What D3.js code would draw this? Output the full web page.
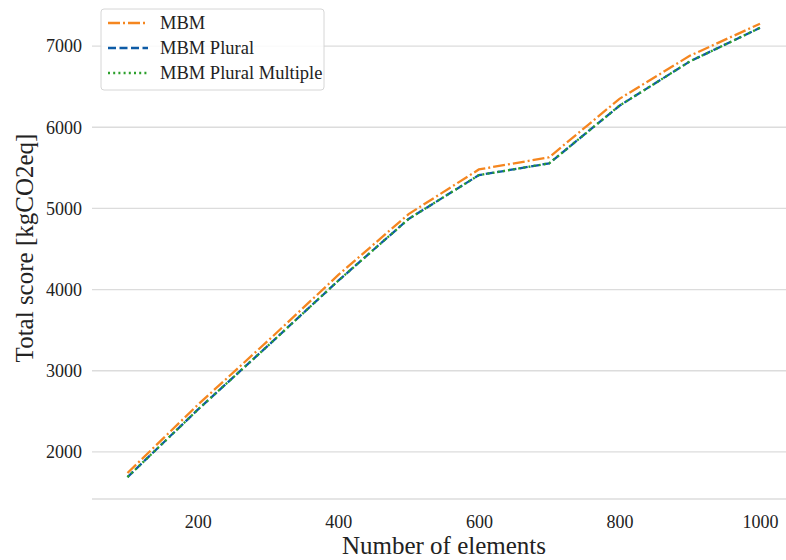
<!DOCTYPE html>
<html>
<head>
<meta charset="utf-8">
<script src="https://cdn.jsdelivr.net/npm/d3@7"></script>
<style>
  body { margin: 0; background: #fff; }
</style>
</head>
<body>
<div id="chart"></div>
<script>
var width = 786, height = 560
var serif = '"Liberation Serif", "Times New Roman", serif'

// data
var elements = [100, 200, 300, 400, 500, 600, 700, 800, 900, 1000]
var mbm = [1740, 2580, 3370, 4180, 4930, 5480, 5630, 6350, 6880, 7275]
var mbmPlural = [1690, 2520, 3310, 4110, 4870, 5410, 5555, 6265, 6810, 7225]
var mbmPluralMultiple = [1690, 2520, 3310, 4110, 4870, 5410, 5555, 6265, 6810, 7225]
var xTicks = [200, 400, 600, 800, 1000]
var yTicks = [2000, 3000, 4000, 5000, 6000, 7000]

var series = [
  {name: 'MBM', values: mbm, color: '#f5861f', dash: '12,3,2,3'},
  {name: 'MBM Plural', values: mbmPlural, color: '#0d5ba6', dash: '8,3.5'},
  {name: 'MBM Plural Multiple', values: mbmPluralMultiple, color: '#2ca02c', dash: '2,3.2'}
]

var plot = {left: 92, right: 786, top: -1, bottom: 499}

var svg = d3.select('#chart')
  .append('svg')
  .attr('width', width)
  .attr('height', height)
  .attr('font-family', serif)

var xScale = d3.scaleLinear()
  .domain([49.5, 1037])
  .range([plot.left, plot.right])

var yScale = d3.scaleLinear()
  .domain([1420, 7580])
  .range([plot.bottom, plot.top])

// grid
svg.append('g')
  .attr('class', 'grid')
  .selectAll('line')
  .data(yTicks.concat([1420]))
  .enter()
  .append('line')
  .attr('x1', plot.left)
  .attr('x2', plot.right)
  .attr('y1', d => yScale(d))
  .attr('y2', d => yScale(d))
  .attr('stroke', '#dcdcdc')
  .attr('stroke-width', 1.3)

// axes
var xAxis = d3.axisBottom(xScale)
  .tickValues(xTicks)
  .tickFormat(d3.format('d'))
  .tickSize(0)
  .tickPadding(16)

var yAxis = d3.axisLeft(yScale)
  .tickValues(yTicks)
  .tickFormat(d3.format('d'))
  .tickSize(0)
  .tickPadding(10)

svg.append('g')
  .attr('transform', `translate(0,${plot.bottom})`)
  .call(xAxis)
  .attr('font-family', serif)
  .attr('font-size', 18)
  .call(g => g.select('.domain').remove())
  .selectAll('text')
  .attr('fill', '#222')

svg.append('g')
  .attr('transform', `translate(${plot.left},0)`)
  .call(yAxis)
  .attr('font-family', serif)
  .attr('font-size', 18)
  .call(g => g.select('.domain').remove())
  .selectAll('text')
  .attr('fill', '#222')

// axis titles
svg.append('text')
  .attr('x', (plot.left + plot.right) / 2 + 5)
  .attr('y', 554)
  .attr('text-anchor', 'middle')
  .attr('font-size', 25)
  .attr('fill', '#222')
  .text('Number of elements')

svg.append('text')
  .attr('transform', 'translate(33,248) rotate(-90)')
  .attr('text-anchor', 'middle')
  .attr('font-size', 25)
  .attr('fill', '#222')
  .text('Total score [kgCO2eq]')

// lines
var line = d3.line()
  .x((d, i) => xScale(elements[i]))
  .y(d => yScale(d))

svg.selectAll('path.series')
  .data(series)
  .enter()
  .append('path')
  .attr('class', 'series')
  .attr('d', d => line(d.values))
  .attr('fill', 'none')
  .attr('stroke', d => d.color)
  .attr('stroke-width', 2.3)
  .attr('stroke-dasharray', d => d.dash)

// legend
var legend = svg.append('g')
  .attr('transform', 'translate(101,9)')

legend.append('rect')
  .attr('width', 223)
  .attr('height', 81)
  .attr('rx', 3)
  .attr('fill', 'rgba(255,255,255,0.85)')
  .attr('stroke', '#d6d6d6')
  .attr('stroke-width', 1)

var items = legend.selectAll('g.item')
  .data(series)
  .enter()
  .append('g')
  .attr('class', 'item')
  .attr('transform', (d, i) => `translate(0,${14 + i * 25})`)

items.append('line')
  .attr('x1', 7)
  .attr('x2', 47)
  .attr('stroke', d => d.color)
  .attr('stroke-width', 2.3)
  .attr('stroke-dasharray', d => d.dash)

items.append('text')
  .attr('x', 59)
  .attr('y', 6)
  .attr('font-size', 18.5)
  .attr('fill', '#222')
  .text(d => d.name)
</script>
</body>
</html>
